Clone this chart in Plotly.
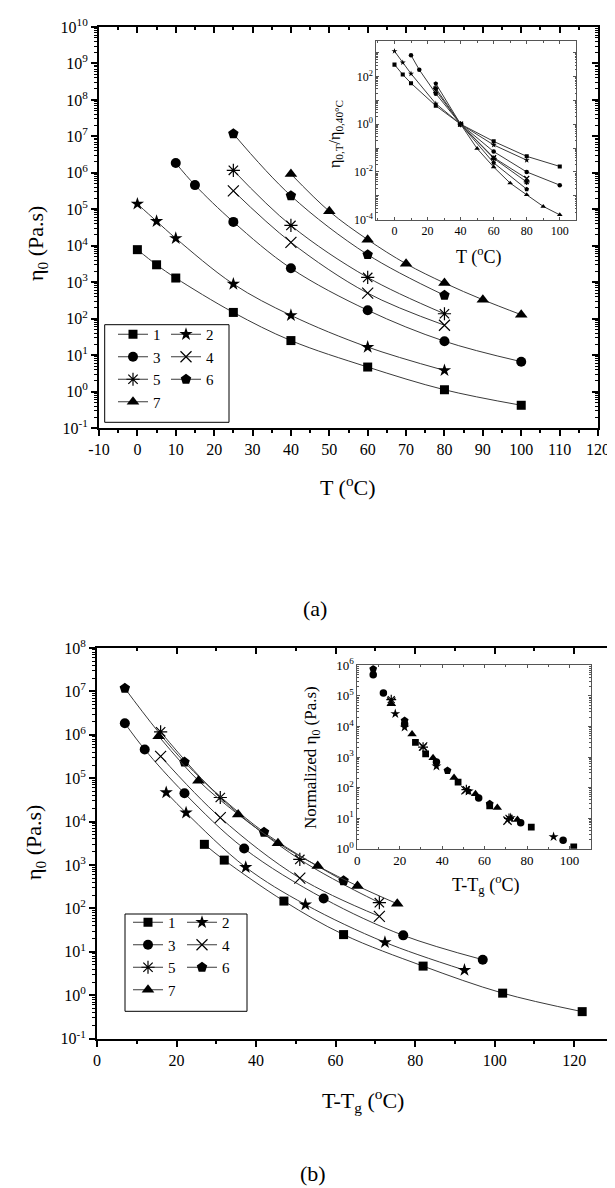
import plotly.graph_objects as go

# ---------------- data ----------------
NAMES = ["1", "2", "3", "4", "5", "6", "7"]

# (a) main panel: temperature (°C) and zero-shear viscosity (Pa.s)
T_1 = [0, 5, 10, 25, 40, 60, 80, 100]
ETA_1 = [7.8e3, 3.0e3, 1.3e3, 148, 25, 4.7, 1.12, 0.42]
T_2 = [0, 5, 10, 25, 40, 60, 80]
ETA_2 = [1.4e5, 4.7e4, 1.6e4, 890, 123, 16.6, 3.8]
T_3 = [10, 15, 25, 40, 60, 80, 100]
ETA_3 = [1.85e6, 4.6e5, 4.5e4, 2.4e3, 170, 24, 6.6]
T_4 = [25, 40, 60, 80]
ETA_4 = [3.2e5, 1.24e4, 500, 66]
T_5 = [25, 40, 60, 80]
ETA_5 = [1.17e6, 3.6e4, 1.35e3, 136]
T_6 = [25, 40, 60, 80]
ETA_6 = [1.18e7, 2.35e5, 5.7e3, 436]
T_7 = [40, 50, 60, 70, 80, 90, 100]
ETA_7 = [9.3e5, 8.8e4, 1.47e4, 3.2e3, 950, 330, 128]

# (a) inset: eta(T)/eta(40 °C)
R_1 = [312, 120, 52, 5.9, 1, 0.19, 0.045, 0.017]
R_2 = [1140, 380, 130, 7.2, 1, 0.135, 0.031]
R_3 = [770, 190, 19, 1, 0.071, 0.010, 0.0028]
R_4 = [26, 1, 0.040, 0.0053]
R_5 = [32, 1, 0.037, 0.0038]
R_6 = [50, 1, 0.024, 0.0019]
R_7 = [1, 0.095, 0.016, 0.0034, 0.0011, 0.00036, 0.00016]

# (b) main panel: T - Tg (°C) and viscosity (Pa.s)
TG_1 = [27, 32, 47, 62, 82, 102, 122]
EB_1 = [3.0e3, 1.3e3, 148, 25, 4.7, 1.12, 0.42]
TG_2 = [17.4, 22.4, 37.4, 52.4, 72.4, 92.4]
EB_2 = [4.7e4, 1.6e4, 890, 123, 16.6, 3.8]
TG_3 = [7, 12, 22, 37, 57, 77, 97]
EB_3 = [1.85e6, 4.6e5, 4.5e4, 2.4e3, 170, 24, 6.6]
TG_4 = [16, 31, 51, 71]
EB_4 = [3.2e5, 1.24e4, 500, 66]
TG_5 = [16, 31, 51, 71]
EB_5 = [1.17e6, 3.6e4, 1.35e3, 136]
TG_6 = [7, 22, 42, 62]
EB_6 = [1.18e7, 2.35e5, 5.7e3, 436]
TG_7 = [15.5, 25.5, 35.5, 45.5, 55.5, 65.5, 75.5]
EB_7 = [9.3e5, 8.8e4, 1.47e4, 3.2e3, 950, 330, 128]

# (b) inset: normalized viscosity vs T - Tg
NX_1 = [27.4, 32.2, 47.5, 62.4, 82, 102]
NY_1 = [3.0e3, 1.26e3, 150, 25, 5.1, 1.15]
NX_2 = [17.9, 22.3, 37.3, 52.5, 72.3, 92.5]
NY_2 = [2.6e4, 9.4e3, 500, 76, 10.2, 2.45]
NX_3 = [7.5, 12.3, 22.3, 37.3, 57.2, 77, 97]
NY_3 = [4.9e5, 1.24e5, 1.2e4, 690, 46, 7.1, 1.9]
NX_4 = [16, 31, 51, 70.8]
NY_4 = [6.5e4, 2.2e3, 82, 8.3]
NX_5 = [16, 31, 51.4, 71.5]
NY_5 = [7.5e4, 2.1e3, 85, 9.8]
NX_6 = [7.5, 22.3, 42.5, 62.4]
NY_6 = [7.6e5, 1.55e4, 360, 29.5]
NX_7 = [16, 25.8, 35.7, 45.6, 55.7, 66, 75.5]
NY_7 = [5.4e4, 5.6e3, 940, 210, 62, 22, 8.9]

T_LIST = [T_1, T_2, T_3, T_4, T_5, T_6, T_7]
ETA_LIST = [ETA_1, ETA_2, ETA_3, ETA_4, ETA_5, ETA_6, ETA_7]
R_LIST = [R_1, R_2, R_3, R_4, R_5, R_6, R_7]
TG_LIST = [TG_1, TG_2, TG_3, TG_4, TG_5, TG_6, TG_7]
EB_LIST = [EB_1, EB_2, EB_3, EB_4, EB_5, EB_6, EB_7]
NX_LIST = [NX_1, NX_2, NX_3, NX_4, NX_5, NX_6, NX_7]
NY_LIST = [NY_1, NY_2, NY_3, NY_4, NY_5, NY_6, NY_7]

# ---------------- style ----------------
W, H = 615, 1188
FONT = "Liberation Serif"
SYMBOLS = ["square", "star", "circle", "x-thin-open", "asterisk-open", "pentagon", "triangle-up"]
SIZES = [9, 10, 10, 11, 11, 11, 11]
OPEN = [False, False, False, True, True, False, False]
LINE_C = "#3a3a3a"


def px(x):
    return x / W


def py(y):
    return 1 - y / H


def marker(i, scale=1.0):
    return dict(symbol=SYMBOLS[i], size=SIZES[i] * scale, color="black",
                line=dict(color="black", width=1.2 if OPEN[i] else 0))


def log_ticks(lo, hi, skip_odd=False):
    vals = [10.0 ** k for k in range(lo, hi + 1)]
    txt = []
    for k in range(lo, hi + 1):
        if skip_odd and (k % 2 != 0):
            txt.append("")
        else:
            txt.append(f"10<sup>{k}</sup>")
    minor = [m * 10.0 ** k for k in range(lo, hi) for m in range(2, 10)]
    return vals, txt, minor


fig = go.Figure()

# (a) main
for i in range(7):
    fig.add_trace(go.Scatter(
        x=T_LIST[i], y=ETA_LIST[i], mode="lines+markers", name=NAMES[i],
        line=dict(color=LINE_C, width=1, shape="spline"), marker=marker(i),
        xaxis="x", yaxis="y", legend="legend" if i % 2 == 0 else "legend2"))
# (a) inset
for i in range(7):
    fig.add_trace(go.Scatter(
        x=T_LIST[i], y=R_LIST[i], mode="lines+markers", showlegend=False,
        line=dict(color=LINE_C, width=1), marker=marker(i, 0.45),
        xaxis="x2", yaxis="y2"))
# (b) main
for i in range(7):
    fig.add_trace(go.Scatter(
        x=TG_LIST[i], y=EB_LIST[i], mode="lines+markers", name=NAMES[i],
        line=dict(color=LINE_C, width=1, shape="spline"), marker=marker(i),
        xaxis="x3", yaxis="y3", legend="legend3" if i % 2 == 0 else "legend4"))
# (b) inset
for i in range(7):
    fig.add_trace(go.Scatter(
        x=NX_LIST[i], y=NY_LIST[i], mode="markers", showlegend=False,
        marker=marker(i, 0.75), xaxis="x4", yaxis="y4"))
# dummy traces for mirror-tick overlay axes
fig.add_trace(go.Scatter(x=[None], y=[None], xaxis="x5", yaxis="y5", showlegend=False, hoverinfo="skip"))
fig.add_trace(go.Scatter(x=[None], y=[None], xaxis="x6", yaxis="y6", showlegend=False, hoverinfo="skip"))

AX = dict(showgrid=False, zeroline=False, tickcolor="black", ticks="outside", automargin=False,
          tickfont=dict(family=FONT, size=16, color="black"))

# geometry (pixels)
A_X = [91, 590]; A_Y = [19, 420]
AI_X = [368.3, 568.3]; AI_Y = [33.3, 211.7]
B_X = [89, 606]; B_Y = [640, 1030.7]
BI_X = [349.3, 582.7]; BI_Y = [657.3, 840.7]

ya_v, ya_t, ya_m = log_ticks(-1, 10)
yai_v, yai_t, yai_m = log_ticks(-4, 3, skip_odd=True)
yb_v, yb_t, yb_m = log_ticks(-1, 8)
ybi_v, ybi_t, ybi_m = log_ticks(0, 6)

xa_major = list(range(-10, 121, 10))
xa_text = [str(v) for v in xa_major]
xa_minor = list(range(-5, 120, 10))
xb_major = list(range(0, 131, 20))
xb_minor = list(range(10, 131, 20))
xb_text = [str(v) if v <= 120 else "" for v in xb_major]
xi_major = list(range(0, 101, 20))
xi_text = [str(v) for v in xi_major]

layout_axes = dict(
    xaxis=dict(AX, domain=[px(A_X[0]), px(A_X[1])], anchor="y", range=[-10, 120],
               tickmode="array", tickvals=xa_major, ticktext=xa_text, ticklen=6, tickwidth=1.5,
               minor=dict(tickmode="array", tickvals=xa_minor, ticks="outside", ticklen=3,
                          tickwidth=1.5, tickcolor="black", showgrid=False),
               showline=True, linewidth=2, linecolor="black", mirror=True),
    yaxis=dict(AX, domain=[py(A_Y[1]), py(A_Y[0])], anchor="x", type="log", range=[-1, 10],
               tickmode="array", tickvals=ya_v, ticktext=ya_t, ticklen=6, tickwidth=1.5,
               minor=dict(tickmode="array", tickvals=ya_m, ticks="outside", ticklen=3,
                          tickwidth=1, tickcolor="black", showgrid=False),
               showline=True, linewidth=2, linecolor="black", mirror=True),
    xaxis5=dict(AX, overlaying="x", anchor="y5", side="top", range=[-10, 120],
                domain=[px(A_X[0]), px(A_X[1])],
                tickmode="array", tickvals=xa_major, ticks="inside", ticklen=6, tickwidth=1.5,
                showticklabels=False, showline=False,
                minor=dict(tickmode="array", tickvals=xa_minor, ticks="inside", ticklen=3,
                           tickwidth=1.5, tickcolor="black", showgrid=False)),
    yaxis5=dict(AX, overlaying="y", anchor="x5", side="right", type="log", range=[-1, 10],
                domain=[py(A_Y[1]), py(A_Y[0])],
                tickmode="array", tickvals=ya_v, ticks="inside", ticklen=6, tickwidth=1.5,
                showticklabels=False, showline=False,
                minor=dict(tickmode="array", tickvals=ya_m, ticks="inside", ticklen=3,
                           tickwidth=1, tickcolor="black", showgrid=False)),
    xaxis2=dict(AX, domain=[px(AI_X[0]), px(AI_X[1])], anchor="y2", range=[-11, 110],
                tickmode="array", tickvals=xi_major, ticktext=xi_text, ticks="inside", ticklen=3,
                tickfont=dict(family=FONT, size=12, color="black"),
                minor=dict(tickmode="array", tickvals=list(range(-10, 111, 20)), ticks="inside",
                           ticklen=2, tickcolor="#555", showgrid=False),
                showline=True, linewidth=1, linecolor="#555", mirror="allticks", tickcolor="#555"),
    yaxis2=dict(AX, domain=[py(AI_Y[1]), py(AI_Y[0])], anchor="x2", type="log", range=[-4, 3.47],
                tickmode="array", tickvals=yai_v, ticktext=yai_t, ticks="inside", ticklen=3,
                tickfont=dict(family=FONT, size=12, color="black"),
                minor=dict(tickmode="array", tickvals=yai_m, ticks="inside", ticklen=1.5,
                           tickcolor="#555", showgrid=False),
                showline=True, linewidth=1, linecolor="#555", mirror="allticks", tickcolor="#555"),
    xaxis3=dict(AX, domain=[px(B_X[0]), px(B_X[1])], anchor="y3", range=[0, 130],
                tickmode="array", tickvals=xb_major, ticktext=xb_text, ticklen=6, tickwidth=1.5,
                minor=dict(tickmode="array", tickvals=xb_minor, ticks="outside", ticklen=3,
                           tickwidth=1.5, tickcolor="black", showgrid=False),
                showline=True, linewidth=2, linecolor="black", mirror=True),
    yaxis3=dict(AX, domain=[py(B_Y[1]), py(B_Y[0])], anchor="x3", type="log", range=[-1, 8],
                tickmode="array", tickvals=yb_v, ticktext=yb_t, ticklen=6, tickwidth=1.5,
                minor=dict(tickmode="array", tickvals=yb_m, ticks="outside", ticklen=3,
                           tickwidth=1, tickcolor="black", showgrid=False),
                showline=True, linewidth=2, linecolor="black", mirror=True),
    xaxis6=dict(AX, overlaying="x3", anchor="y6", side="top", range=[0, 130],
                domain=[px(B_X[0]), px(B_X[1])],
                tickmode="array", tickvals=xb_major, ticks="inside", ticklen=6, tickwidth=1.5,
                showticklabels=False, showline=False,
                minor=dict(tickmode="array", tickvals=xb_minor, ticks="inside", ticklen=3,
                           tickwidth=1.5, tickcolor="black", showgrid=False)),
    yaxis6=dict(AX, overlaying="y3", anchor="x6", side="right", type="log", range=[-1, 8],
                domain=[py(B_Y[1]), py(B_Y[0])],
                tickmode="array", tickvals=yb_v, ticks="inside", ticklen=6, tickwidth=1.5,
                showticklabels=False, showline=False,
                minor=dict(tickmode="array", tickvals=yb_m, ticks="inside", ticklen=3,
                           tickwidth=1, tickcolor="black", showgrid=False)),
    xaxis4=dict(AX, domain=[px(BI_X[0]), px(BI_X[1])], anchor="y4", range=[0, 110],
                tickmode="array", tickvals=xi_major, ticktext=xi_text, ticks="inside", ticklen=3,
                tickfont=dict(family=FONT, size=13, color="black"),
                minor=dict(tickmode="array", tickvals=list(range(10, 111, 20)), ticks="inside",
                           ticklen=2, tickcolor="#555", showgrid=False),
                showline=True, linewidth=1, linecolor="#555", mirror="allticks", tickcolor="#555"),
    yaxis4=dict(AX, domain=[py(BI_Y[1]), py(BI_Y[0])], anchor="x4", type="log", range=[0, 6],
                tickmode="array", tickvals=ybi_v, ticktext=ybi_t, ticks="inside", ticklen=3,
                tickfont=dict(family=FONT, size=13, color="black"),
                minor=dict(tickmode="array", tickvals=ybi_m, ticks="inside", ticklen=1.5,
                           tickcolor="#555", showgrid=False),
                showline=True, linewidth=1, linecolor="#555", mirror="allticks", tickcolor="#555"),
)

LEG = dict(xanchor="left", yanchor="top", bgcolor="rgba(0,0,0,0)", borderwidth=0,
           font=dict(family=FONT, size=15, color="black"), tracegroupgap=0, itemwidth=30)

annotations = [
    dict(text="T (<sup>o</sup>C)", x=px(340), y=py(478), font=dict(size=22)),
    dict(text="η<sub>0</sub> (Pa.s)", x=px(29), y=py(236), textangle=-90, font=dict(size=22)),
    dict(text="(a)", x=px(307), y=py(600), font=dict(size=22)),
    dict(text="T (<sup>o</sup>C)", x=px(470), y=py(248), font=dict(size=18)),
    dict(text="η<sub>0,T</sub>/η<sub>0,40°C</sub>", x=px(327), y=py(126), textangle=-90,
         font=dict(size=16)),
    dict(text="T-T<sub>g</sub> (<sup>o</sup>C)", x=px(355), y=py(1092), font=dict(size=22)),
    dict(text="η<sub>0</sub> (Pa.s)", x=px(27), y=py(835), textangle=-90, font=dict(size=22)),
    dict(text="(b)", x=px(305), y=py(1165), font=dict(size=22)),
    dict(text="T-T<sub>g</sub> (<sup>o</sup>C)", x=px(477), y=py(876), font=dict(size=18)),
    dict(text="Normalized η<sub>0</sub> (Pa.s)", x=px(304), y=py(750), textangle=-90,
         font=dict(size=17)),
]
for a in annotations:
    a.update(xref="paper", yref="paper", showarrow=False, xanchor="center", yanchor="middle")
    a["font"].update(family=FONT, color="black")

shapes = [
    dict(type="rect", xref="paper", yref="paper", x0=px(96.7), x1=px(221), y0=py(414.3), y1=py(316.7),
         line=dict(color="black", width=1)),
    dict(type="rect", xref="paper", yref="paper", x0=px(117), x1=px(239), y0=py(1003.3), y1=py(906),
         line=dict(color="black", width=1)),
]

fig.update_layout(
    width=W, height=H, margin=dict(l=0, r=0, t=0, b=0, autoexpand=False),
    paper_bgcolor="white", plot_bgcolor="rgba(0,0,0,0)",
    font=dict(family=FONT, color="black"),
    annotations=annotations, shapes=shapes,
    legend=dict(LEG, x=px(105), y=py(310)),
    legend2=dict(LEG, x=px(158), y=py(310)),
    legend3=dict(LEG, x=px(120), y=py(898)),
    legend4=dict(LEG, x=px(174), y=py(898)),
    **layout_axes,
)

fig.write_html("out.html")
